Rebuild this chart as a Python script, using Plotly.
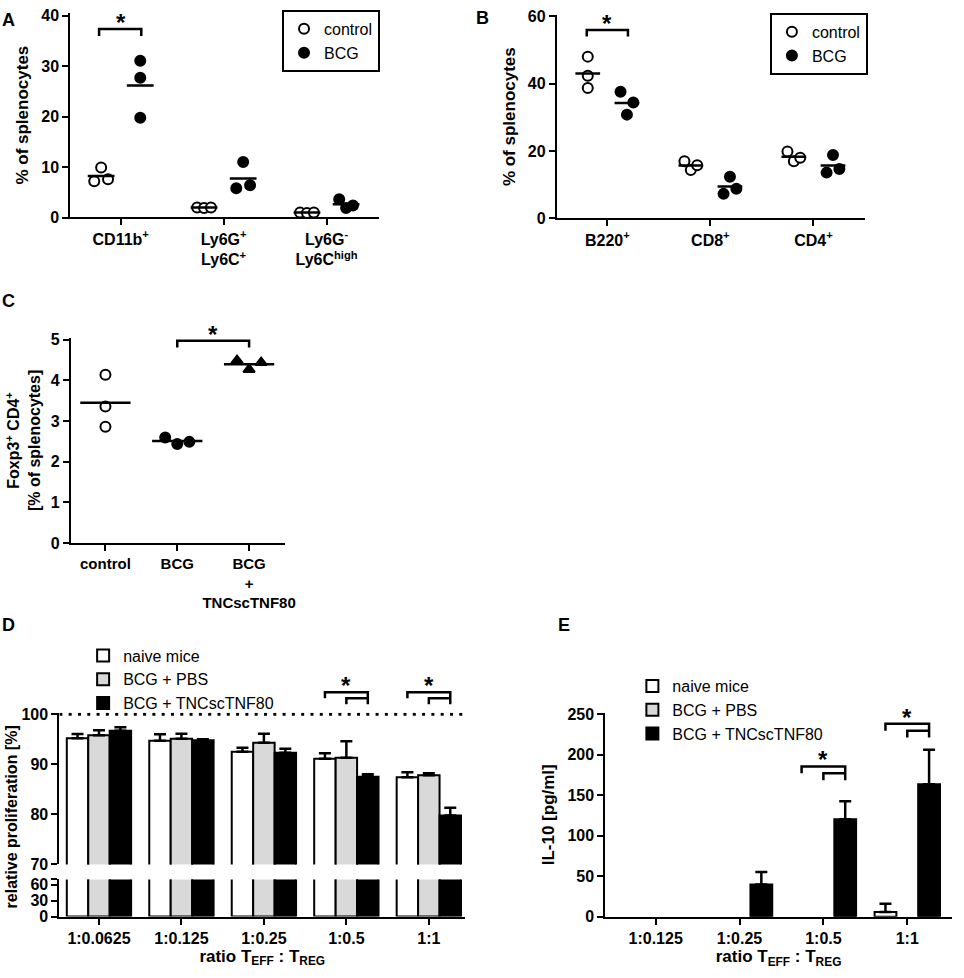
import numpy as np
import plotly.graph_objects as go

# ---------------- data ----------------
A_CATS = ["CD11b<sup>+</sup>", "Ly6G<sup>+</sup><br>Ly6C<sup>+</sup>",
          "Ly6G<sup>-</sup><br>Ly6C<sup>high</sup>"]
A_CONTROL = [[7.2, 9.9, 7.6], [2.0, 1.9, 2.0], [1.0, 0.9, 1.0]]
A_BCG = [[31.1, 27.7, 19.8], [11.0, 5.8, 6.4], [3.6, 1.9, 2.4]]

B_CATS = ["B220<sup>+</sup>", "CD8<sup>+</sup>", "CD4<sup>+</sup>"]
B_CONTROL = [[48.0, 42.3, 38.7], [17.0, 14.4, 15.8], [19.9, 17.0, 18.0]]
B_BCG = [[37.6, 34.4, 30.8], [12.4, 7.3, 8.8], [18.8, 13.6, 14.7]]

C_CATS = ["control", "BCG", "BCG<br>+<br>TNCscTNF80"]
C_VALUES = [[4.14, 3.36, 2.86], [2.60, 2.44, 2.49], [4.49, 4.27, 4.44]]

D_RATIOS = ["1:0.0625", "1:0.125", "1:0.25", "1:0.5", "1:1"]
D_NAIVE = [95.2, 94.7, 92.5, 91.1, 87.4]
D_NAIVE_ERR = [0.85, 1.3, 0.8, 1.1, 1.0]
D_PBS = [95.8, 95.1, 94.3, 91.3, 87.8]
D_PBS_ERR = [1.0, 1.0, 1.8, 3.3, 0.4]
D_TNC = [96.7, 94.8, 92.3, 87.5, 79.8]
D_TNC_ERR = [0.7, 0.2, 0.8, 0.5, 1.5]

E_RATIOS = ["1:0.125", "1:0.25", "1:0.5", "1:1"]
E_NAIVE = [0, 0, 0, 6.1]
E_NAIVE_ERR = [0, 0, 0, 10.1]
E_PBS = [0, 0, 0, 0]
E_PBS_ERR = [0, 0, 0, 0]
E_TNC = [0, 40.0, 120.5, 163.8]
E_TNC_ERR = [0, 15.4, 22.3, 42.5]

GROUPS = ["naive mice", "BCG + PBS", "BCG + TNCscTNF80"]
GROUP_COLORS = ["white", "#d9d9d9", "black"]

# significance marks (group index, 1-based)
A_SIG = 1
B_SIG = 1
C_SIG = (2, 3)
D_SIG = [4, 5]
E_SIG = [3, 4]
E_SIG_BASE = [168.7, 221.3]

# point spreading inside each cluster (style only)
A_JIT_CONTROL = [[-1, 0, 1], [-1, 0, 1], [-1, 0, 1]]
A_JIT_BCG = [[0, 0, 0], [0, -1, 1], [-1, 0, 1]]
B_JIT_CONTROL = [[0, 0, 0], [-1, 0, 1], [-1, 0, 1]]
B_JIT_BCG = [[-1, 1, 0], [0, -1, 1], [0, -1, 1]]
C_JIT = [[0, 0, 0], [-1, 0, 1], [-1, 0, 1]]

FONT = "Liberation Sans, Arial, sans-serif"
W, H = 964, 978
BARGAP = 0.22
BAR_W = (1 - BARGAP) / 3


def px(x):
    return x / W


def py(y):
    return 1 - y / H


def bold(size):
    return dict(family=FONT, size=size, color="black", weight="bold")


fig = go.Figure()
shapes = []
annotations = []


def dots(values, jit, offset, step, xa, ya, symbol, fill, size, name=None, legend=None):
    xs, ys = [], []
    for i, (vals, js) in enumerate(zip(values, jit)):
        for v, j in zip(vals, js):
            xs.append(i + 1 + offset + j * step)
            ys.append(v)
    fig.add_trace(go.Scatter(
        x=xs, y=ys, mode="markers", xaxis=xa, yaxis=ya, name=name,
        showlegend=name is not None, legend=legend or "legend",
        marker=dict(symbol=symbol, size=size, color=fill,
                    line=dict(color="black", width=2)),
        cliponaxis=False,
    ))


def means(values, offset, half, xa, ya):
    xs, ys = [], []
    for i, vals in enumerate(values):
        m = float(np.mean(vals))
        c = i + 1 + offset
        xs += [c - half, c + half, None]
        ys += [m, m, None]
    fig.add_trace(go.Scatter(x=xs, y=ys, mode="lines", xaxis=xa, yaxis=ya,
                             showlegend=False, line=dict(color="black", width=2.5)))


def bracket(xa, ya, x0, x1, base, top):
    shapes.append(dict(type="path", xref=xa, yref=ya,
                       path=f"M {x0},{base} L {x0},{top} L {x1},{top} L {x1},{base}",
                       line=dict(color="black", width=2.5)))


def star(xa, ya, x, y):
    annotations.append(dict(text="*", x=x, y=y, xref=xa, yref=ya, showarrow=False,
                            yanchor="bottom", yshift=-9, font=bold(24)))


def double_bracket(xa, ya, g, base, dy):
    # outer: naive -> TNC ; inner: PBS -> TNC
    x_w, x_g, x_b = g - BAR_W, g, g + BAR_W
    shapes.append(dict(type="path", xref=xa, yref=ya,
                       path=(f"M {x_w},{base + dy} L {x_w},{base + 2 * dy} "
                             f"L {x_b},{base + 2 * dy} L {x_b},{base}"),
                       line=dict(color="black", width=2.5)))
    shapes.append(dict(type="path", xref=xa, yref=ya,
                       path=f"M {x_g},{base} L {x_g},{base + dy} L {x_b},{base + dy}",
                       line=dict(color="black", width=2.5)))
    star(xa, ya, x_g, base + 2 * dy)


def skip_zero(vals):
    # zero bars / zero error bars are not drawn in the original
    return [v if v > 0 else None for v in vals]


# ---------------- A ----------------
dots(A_CONTROL, A_JIT_CONTROL, -0.19, 0.067, "x", "y", "circle", "white", 10, "control", "legend")
dots(A_BCG, A_JIT_BCG, 0.19, 0.067, "x", "y", "circle", "black", 10, "BCG", "legend")
means(A_CONTROL, -0.19, 0.13, "x", "y")
means(A_BCG, 0.19, 0.13, "x", "y")
bracket("x", "y", A_SIG - 0.21, A_SIG + 0.2, 36.0, 37.4)
star("x", "y", A_SIG, 37.4)

# ---------------- B ----------------
dots(B_CONTROL, B_JIT_CONTROL, -0.19, 0.062, "x2", "y2", "circle", "white", 10, "control", "legend2")
dots(B_BCG, B_JIT_BCG, 0.19, 0.062, "x2", "y2", "circle", "black", 10, "BCG", "legend2")
means(B_CONTROL, -0.19, 0.12, "x2", "y2")
means(B_BCG, 0.19, 0.12, "x2", "y2")
bracket("x2", "y2", B_SIG - 0.2, B_SIG + 0.2, 54.0, 55.9)
star("x2", "y2", B_SIG, 55.9)

# ---------------- C ----------------
c_symbols = [("circle", "white"), ("circle", "black"), ("triangle-up", "black")]
for i, (vals, js) in enumerate(zip(C_VALUES, C_JIT)):
    sym, fill = c_symbols[i]
    fig.add_trace(go.Scatter(
        x=[i + 1 + j * 0.168 for j in js], y=vals, mode="markers",
        xaxis="x3", yaxis="y3", showlegend=False, cliponaxis=False,
        marker=dict(symbol=sym, size=10, color=fill, line=dict(color="black", width=2)),
    ))
means(C_VALUES, 0, 0.35, "x3", "y3")
bracket("x3", "y3", C_SIG[0], C_SIG[1], 4.81, 4.98)
star("x3", "y3", sum(C_SIG) / 2, 4.98)

# ---------------- D (broken axis) ----------------
d_x = list(range(1, len(D_RATIOS) + 1))
d_series = [(D_NAIVE, D_NAIVE_ERR), (D_PBS, D_PBS_ERR), (D_TNC, D_TNC_ERR)]
for k, (vals, err) in enumerate(d_series):
    fig.add_trace(go.Bar(
        x=d_x, y=vals, name=GROUPS[k], xaxis="x4", yaxis="y4", legend="legend3",
        marker=dict(color=GROUP_COLORS[k], line=dict(color="black", width=2)),
        error_y=dict(type="data", array=err, arrayminus=[0] * len(err), symmetric=False,
                     color="black", thickness=2.5, width=6),
    ))
    fig.add_trace(go.Bar(
        x=d_x, y=vals, xaxis="x5", yaxis="y5", showlegend=False,
        marker=dict(color=GROUP_COLORS[k], line=dict(color="black", width=2)),
    ))
shapes.append(dict(type="line", xref="x4", yref="y4", x0=0.52, x1=5.44, y0=100, y1=100,
                   line=dict(color="black", width=3, dash="3px,6.3px")))
for g in D_SIG:
    double_bracket("x6", "y6", g, 102.0, 1.2)

# ---------------- E ----------------
e_x = list(range(1, len(E_RATIOS) + 1))
e_series = [(E_NAIVE, E_NAIVE_ERR), (E_PBS, E_PBS_ERR), (E_TNC, E_TNC_ERR)]
for k, (vals, err) in enumerate(e_series):
    fig.add_trace(go.Bar(
        x=e_x, y=skip_zero(vals), name=GROUPS[k], xaxis="x7", yaxis="y7", legend="legend4",
        marker=dict(color=GROUP_COLORS[k], line=dict(color="black", width=2)),
        error_y=dict(type="data", array=skip_zero(err), arrayminus=[0] * len(err),
                     symmetric=False, color="black", thickness=2.5, width=6),
    ))
for g, base in zip(E_SIG, E_SIG_BASE):
    double_bracket("x7", "y7", g, base, 8.5)

# ---------------- axes ----------------
AX = dict(showline=True, linecolor="black", linewidth=2, ticks="outside", ticklen=6,
          tickwidth=2, tickcolor="black", showgrid=False, zeroline=False,
          tickfont=bold(16))


def title(text, size=17, standoff=8):
    return dict(text=text, font=bold(size), standoff=standoff)


layout_axes = dict(
    # A
    xaxis=dict(AX, domain=[px(71), px(383)], range=[0.51, 3.51], anchor="y",
               tickvals=[1, 2, 3], ticktext=A_CATS),
    yaxis=dict(AX, domain=[py(214), py(5.9)], range=[0, 40.6], anchor="x",
               tickvals=[0, 10, 20, 30, 40], title=title("% of splenocytes")),
    # B
    xaxis2=dict(AX, domain=[px(562.7), px(874)], range=[0.51, 3.5], anchor="y2",
                tickvals=[1, 2, 3], ticktext=B_CATS),
    yaxis2=dict(AX, domain=[py(215), py(7.95)], range=[0, 60.4], anchor="x2",
                tickvals=[0, 20, 40, 60], title=title("% of splenocytes")),
    # C
    xaxis3=dict(AX, domain=[px(71.7), px(288)], range=[0.52, 3.5], anchor="y3",
                tickvals=[1, 2, 3], ticktext=C_CATS, tickfont=bold(15)),
    yaxis3=dict(AX, domain=[py(545), py(336.3)], range=[0, 5.05], anchor="x3",
                tickvals=[0, 1, 2, 3, 4, 5],
                title=title("Foxp3<sup>+</sup> CD4<sup>+</sup><br>[% of splenocytes]", 16, 6)),
    # D top segment
    xaxis4=dict(domain=[px(60), px(470)], range=[0.52, 5.44], anchor="y4", visible=False),
    yaxis4=dict(AX, domain=[py(871.7), py(717.5)], range=[70, 100.3], anchor="x4",
                tickvals=[70, 80, 90, 100]),
    # D bottom segment
    xaxis5=dict(AX, domain=[px(60), px(470)], range=[0.52, 5.44], anchor="y5",
                tickvals=d_x, ticktext=D_RATIOS,
                title=title("ratio T<sub>EFF</sub> : T<sub>REG</sub>", 17, 4)),
    yaxis5=dict(AX, domain=[py(924.7), py(886.9)], range=[0, 70], anchor="x5",
                tickvals=[0, 30, 60, 70], ticktext=["0", "30", "60", ""]),
    # D significance strip
    xaxis6=dict(domain=[px(60), px(470)], range=[0.52, 5.44], anchor="y6", visible=False),
    yaxis6=dict(domain=[py(717.5), py(675.7)], range=[100.3, 108.5], anchor="x6", visible=False),
    # E
    xaxis7=dict(AX, domain=[px(611.7), px(961.7)], range=[0.4, 4.53], anchor="y7",
                tickvals=e_x, ticktext=E_RATIOS,
                title=title("ratio T<sub>EFF</sub> : T<sub>REG</sub>", 17, 4)),
    yaxis7=dict(AX, domain=[py(925), py(717.4)], range=[0, 252], anchor="x7",
                tickvals=[0, 50, 100, 150, 200, 250], title=title("IL-10 [pg/ml]", 17, 8)),
)

for letter, x, y in [("A", 9, 13), ("B", 488, 11), ("C", 9, 299), ("D", 9, 628), ("E", 570, 628)]:
    annotations.append(dict(text=letter, x=px(x), y=py(y), xref="paper", yref="paper",
                            xanchor="center", yanchor="middle", showarrow=False, font=bold(18)))
annotations.append(dict(text="relative proliferation [%]", x=px(12), y=py(823),
                        xref="paper", yref="paper", xanchor="center", yanchor="middle",
                        showarrow=False, textangle=-90, font=bold(16)))

box_legend = dict(bgcolor="white", bordercolor="black", borderwidth=2,
                  font=dict(family=FONT, size=16, color="black"),
                  xanchor="right", yanchor="top", tracegroupgap=0)
plain_legend = dict(bgcolor="rgba(0,0,0,0)", borderwidth=0,
                    font=dict(family=FONT, size=16, color="black"),
                    xanchor="left", yanchor="top", tracegroupgap=0)

fig.update_layout(
    width=W, height=H, margin=dict(l=0, r=0, t=0, b=0),
    paper_bgcolor="white", plot_bgcolor="white",
    font=dict(family=FONT, color="black"),
    barmode="group", bargap=BARGAP, bargroupgap=0,
    legend=dict(box_legend, x=px(384), y=py(3)),
    legend2=dict(box_legend, x=px(877), y=py(6)),
    legend3=dict(plain_legend, x=px(84), y=py(642)),
    legend4=dict(plain_legend, x=px(639), y=py(673)),
    shapes=shapes, annotations=annotations,
    **layout_axes,
)

fig.write_html("out.html", config={"displayModeBar": False},
               post_script="document.body.style.margin = '0';")
